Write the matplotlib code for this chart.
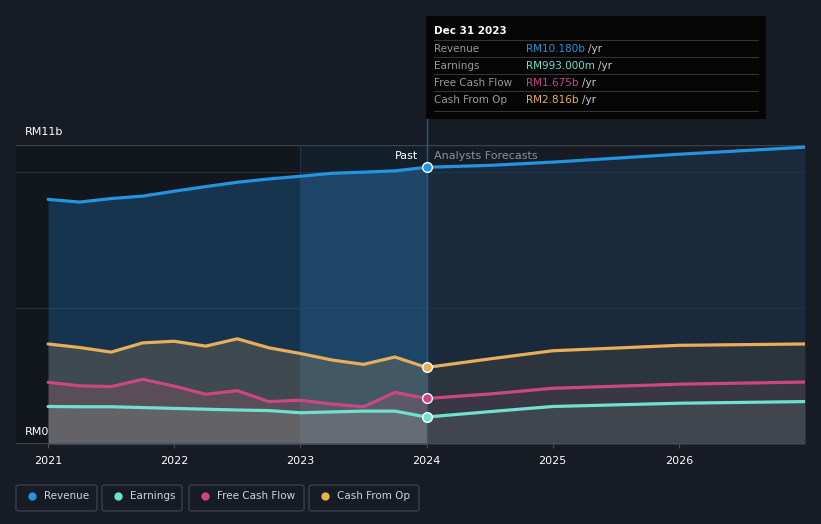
import numpy as np
import matplotlib.pyplot as plt
from matplotlib.patches import FancyBboxPatch, Rectangle

# =============================================================================
# DADOS (em RM bilhões)
# =============================================================================
anos_passado = [2021.0, 2021.25, 2021.5, 2021.75, 2022.0, 2022.25, 2022.5,
                2022.75, 2023.0, 2023.25, 2023.5, 2023.75, 2024.0]
receita_passado = [9.0, 8.9, 9.03, 9.12, 9.3, 9.47, 9.63, 9.75, 9.85, 9.96, 10.0, 10.05, 10.18]
lucro_passado = [1.38, 1.37, 1.37, 1.34, 1.31, 1.28, 1.25, 1.23, 1.15, 1.18, 1.21, 1.21, 0.993]
fcl_passado = [2.27, 2.14, 2.11, 2.38, 2.13, 1.83, 1.96, 1.56, 1.61, 1.47, 1.37, 1.9, 1.675]
cfo_passado = [3.68, 3.55, 3.38, 3.72, 3.78, 3.6, 3.87, 3.54, 3.33, 3.09, 2.93, 3.2, 2.816]

anos_previsao = [2024.0, 2024.5, 2025.0, 2026.0, 2027.0]
receita_previsao = [10.18, 10.25, 10.37, 10.66, 10.92]
lucro_previsao = [0.993, 1.19, 1.38, 1.5, 1.56]
fcl_previsao = [1.675, 1.84, 2.05, 2.2, 2.28]
cfo_previsao = [2.816, 3.13, 3.43, 3.63, 3.68]

nomes = ["Revenue", "Earnings", "Free Cash Flow", "Cash From Op"]
cores = ["#2394df", "#6ee2cf", "#c9487f", "#e8ae5a"]
tooltip_valores = ["RM10.180b", "RM993.000m", "RM1.675b", "RM2.816b"]
ticks_anos = [2021, 2022, 2023, 2024, 2025, 2026]

# =============================================================================
# FIGURA
# =============================================================================
fundo = "#161b24"
fig = plt.figure(figsize=(8.21, 5.24), dpi=100, facecolor=fundo)
ax = fig.add_axes([16 / 821, 80 / 524, 789 / 821, 299 / 524])
ax.set_facecolor(fundo)
ax.set_xlim(2020.746, 2027.0)
ax.set_ylim(0, 11)

# regiões de fundo
ax.axvspan(2020.746, 2023.0, color="#12161d", zorder=0)
ax.axvspan(2023.0, 2024.0, color="#141f2c", zorder=0)

# grade
for v in [5, 10]:
    ax.axhline(v, color="#283039", lw=0.8, zorder=1)
ax.axhline(11, color="#3c424a", lw=1.0, zorder=1)
ax.axvline(2023.0, color="#1f3346", lw=0.8, zorder=1)

series_p = [receita_passado, lucro_passado, fcl_passado, cfo_passado]
series_f = [receita_previsao, lucro_previsao, fcl_previsao, cfo_previsao]

# áreas
ax.fill_between(anos_passado, 0, receita_passado, color="#1f5a8a", alpha=0.45, lw=0, zorder=2)
ax.fill_between(anos_passado[8:], 0, receita_passado[8:], color="#2a6aa0", alpha=0.25, lw=0, zorder=2)
ax.fill_between(anos_previsao, 0, receita_previsao, color="#1e3a55", alpha=0.5, lw=0, zorder=2)
for serie_p, serie_f, cor in zip(series_p[1:], series_f[1:], cores[1:]):
    ax.fill_between(anos_passado, 0, serie_p, color=cor, alpha=0.19, lw=0, zorder=3)
    ax.fill_between(anos_previsao, 0, serie_f, color=cor, alpha=0.09, lw=0, zorder=3)

# linhas
for serie_p, serie_f, cor in zip(series_p, series_f, cores):
    ax.plot(anos_passado, serie_p, color=cor, lw=2.3, zorder=5, solid_capstyle="round")
    ax.plot(anos_previsao, serie_f, color=cor, lw=2.3, zorder=5, solid_capstyle="round")
    ax.plot([anos_passado[-1]], [serie_p[-1]], "o", ms=7, color=cor,
            markeredgecolor="white", markeredgewidth=1.0, zorder=7)

ax.axvline(2024.0, color="#2b5a85", lw=1.0, zorder=4)
ax.axhline(0, color="#4a505a", lw=1.2, zorder=6)

ax.text(2023.93, 10.58, "Past", color="white", fontsize=8, ha="right", va="center", zorder=8)
ax.text(2024.06, 10.58, "Analysts Forecasts", color="#8a919c", fontsize=8, ha="left", va="center", zorder=8)

# eixos
for s in ax.spines.values():
    s.set_visible(False)
ax.set_yticks([])
ax.set_xticks(ticks_anos)
ax.set_xticklabels([str(a) for a in ticks_anos], color="white", fontsize=8)
ax.tick_params(axis="x", length=3, color="#4a505a", pad=6)

fig.text(25 / 821, 1 - 132 / 524, "RM11b", color="white", fontsize=8, va="center")
fig.text(25 / 821, 1 - 432 / 524, "RM0", color="white", fontsize=8, va="center")

# linha vertical até o tooltip
fig.add_artist(plt.Line2D([427 / 821, 427 / 821], [1 - 145 / 524, 1 - 119 / 524],
                          color="#2b5a85", lw=1.0))

# tooltip
fig.add_artist(Rectangle((426 / 821, 1 - 119 / 524), 340 / 821, 103 / 524,
                         facecolor="#050505", edgecolor="none"))
fig.text(434 / 821, 1 - 31 / 524, "Dec 31 2023", color="white", fontsize=7.5, va="center", weight="bold")
for i, (nome, val, cor) in enumerate(zip(nomes, tooltip_valores, cores)):
    y = 49 + 17 * i
    fig.add_artist(plt.Line2D([434 / 821, 758 / 821], [1 - (y - 9) / 524] * 2, color="#333333", lw=0.8))
    fig.text(434 / 821, 1 - y / 524, nome, color="#9a9a9a", fontsize=7.5, va="center")
    t = fig.text(526 / 821, 1 - y / 524, val, color=cor, fontsize=7.5, va="center")
    fig.canvas.draw()
    bb = t.get_window_extent()
    fig.text(bb.x1 / 821 + 3 / 821, 1 - y / 524, "/yr", color="#cccccc", fontsize=7.5, va="center")
fig.add_artist(plt.Line2D([434 / 821, 758 / 821], [1 - 111 / 524] * 2, color="#333333", lw=0.8))

# legenda
caixas = [(16, 97), (102, 182), (189, 304), (309, 419)]
for (x0, x1), nome, cor in zip(caixas, nomes, cores):
    fig.add_artist(FancyBboxPatch((x0 / 821, 1 - 511 / 524), (x1 - x0) / 821, 26 / 524,
                                  boxstyle="round,pad=0,rounding_size=0.004",
                                  facecolor="none", edgecolor="#3a404a", lw=1.0))
    fig.add_artist(plt.Line2D([(x0 + 16) / 821], [1 - 496 / 524], marker="o", ms=6,
                              color=cor, markeredgewidth=0))
    fig.text((x0 + 28) / 821, 1 - 496 / 524, nome, color="#d0d3d8", fontsize=7.5, va="center")

fig.savefig("out.png", dpi=100, facecolor=fundo)
